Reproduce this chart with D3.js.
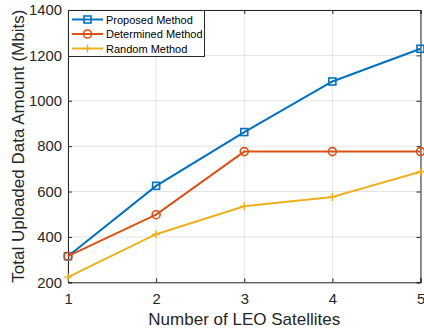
<!DOCTYPE html>
<html>
<head>
<meta charset="utf-8">
<script src="https://cdn.jsdelivr.net/npm/d3@7"></script>
<style>
  html, body { margin: 0; padding: 0; background: #fff; }
  svg { display: block; font-family: "Liberation Sans", Arial, Helvetica, sans-serif; }
</style>
</head>
<body>
<svg id="chart" width="424" height="332"></svg>
<script>
// Number of LEO satellites
const satellites = [1, 2, 3, 4, 5];
// Total uploaded data amount (Mbits) per method
const proposed   = [315, 625, 862, 1085, 1229];
const determined = [315, 498, 776, 776, 776];
const randomM    = [223, 412, 535, 576, 687];
const xTicks = [1, 2, 3, 4, 5];
const yTicks = [200, 400, 600, 800, 1000, 1200, 1400];
const seriesNames = ["Proposed Method", "Determined Method", "Random Method"];

const series = [
  { name: seriesNames[0], values: proposed,   color: "#0072BD", marker: "square" },
  { name: seriesNames[1], values: determined, color: "#D95319", marker: "circle" },
  { name: seriesNames[2], values: randomM,    color: "#EDB120", marker: "plus" }
];

const svg = d3.select("#chart");
const m = { left: 68, right: 420.5, top: 10, bottom: 282.3 };

const x = d3.scaleLinear().domain([1, 5]).range([m.left, m.right]);
const y = d3.scaleLinear().domain([200, 1400]).range([m.bottom, m.top]);

// grid
const grid = svg.append("g");
grid.selectAll(".gx").data(xTicks).join("line")
  .attr("x1", d => x(d)).attr("x2", d => x(d))
  .attr("y1", m.top).attr("y2", m.bottom)
  .attr("stroke", "#e3e3e3").attr("stroke-width", 1);
grid.selectAll(".gy").data(yTicks).join("line")
  .attr("x1", m.left).attr("x2", m.right)
  .attr("y1", d => y(d)).attr("y2", d => y(d))
  .attr("stroke", "#e3e3e3").attr("stroke-width", 1);

// axes (ticks pointing inward)
const tickLen = 4;
const axB = svg.append("g").attr("transform", `translate(0,${m.bottom})`)
  .call(d3.axisBottom(x).tickValues(xTicks).tickFormat(d3.format("d")).tickSize(-tickLen).tickPadding(11));
const axT = svg.append("g").attr("transform", `translate(0,${m.top})`)
  .call(d3.axisTop(x).tickValues(xTicks).tickFormat("").tickSize(-tickLen));
const axL = svg.append("g").attr("transform", `translate(${m.left},0)`)
  .call(d3.axisLeft(y).tickValues(yTicks).tickFormat(d3.format("d")).tickSize(-tickLen).tickPadding(6));
const axR = svg.append("g").attr("transform", `translate(${m.right},0)`)
  .call(d3.axisRight(y).tickValues(yTicks).tickFormat("").tickSize(-tickLen));

[axB, axT, axL, axR].forEach(a => {
  a.select(".domain").attr("stroke", "#262626").attr("stroke-width", 1);
  a.selectAll(".tick line").attr("stroke", "#262626");
  a.selectAll("text").attr("fill", "#262626").attr("font-size", 14.8)
    .attr("font-family", "'Liberation Sans', Arial, sans-serif");
});

// lines
const line = d3.line().x((d, i) => x(satellites[i])).y(d => y(d));

function drawMarker(g, type, cx, cy, color) {
  if (type === "square") {
    g.append("rect").attr("x", cx - 3.5).attr("y", cy - 3.5).attr("width", 7).attr("height", 7)
      .attr("fill", "none").attr("stroke", color).attr("stroke-width", 1.6);
  } else if (type === "circle") {
    g.append("circle").attr("cx", cx).attr("cy", cy).attr("r", 4)
      .attr("fill", "none").attr("stroke", color).attr("stroke-width", 1.6);
  } else {
    g.append("path").attr("d", `M${cx - 4},${cy}H${cx + 4}M${cx},${cy - 4}V${cy + 4}`)
      .attr("stroke", color).attr("stroke-width", 1.4);
  }
}

series.forEach(s => {
  const g = svg.append("g");
  g.append("path").datum(s.values).attr("d", line)
    .attr("fill", "none").attr("stroke", s.color).attr("stroke-width", 2);
  s.values.forEach((v, i) => drawMarker(g, s.marker, x(satellites[i]), y(v), s.color));
});

// legend
const lg = svg.append("g");
lg.append("rect").attr("x", m.left + 0.5).attr("y", m.top + 0.5).attr("width", 136).attr("height", 46)
  .attr("fill", "#fff").attr("stroke", "#262626").attr("stroke-width", 1);
series.forEach((s, i) => {
  const cy = 19.5 + i * 14.5;
  lg.append("line").attr("x1", 72).attr("x2", 103).attr("y1", cy).attr("y2", cy)
    .attr("stroke", s.color).attr("stroke-width", 2);
  drawMarker(lg, s.marker, 87.5, cy, s.color);
  lg.append("text").attr("x", 106).attr("y", cy + 4).attr("font-size", 11)
    .attr("fill", "#000").text(s.name);
});

// axis titles
svg.append("text").attr("x", (m.left + m.right) / 2).attr("y", 325)
  .attr("text-anchor", "middle").attr("font-size", 17).attr("fill", "#262626")
  .text("Number of LEO Satellites");
svg.append("text").attr("transform", `translate(24,${(m.top + m.bottom) / 2}) rotate(-90)`)
  .attr("text-anchor", "middle").attr("font-size", 17).attr("fill", "#262626")
  .text("Total Uploaded Data Amount (Mbits)");
</script>
</body>
</html>
